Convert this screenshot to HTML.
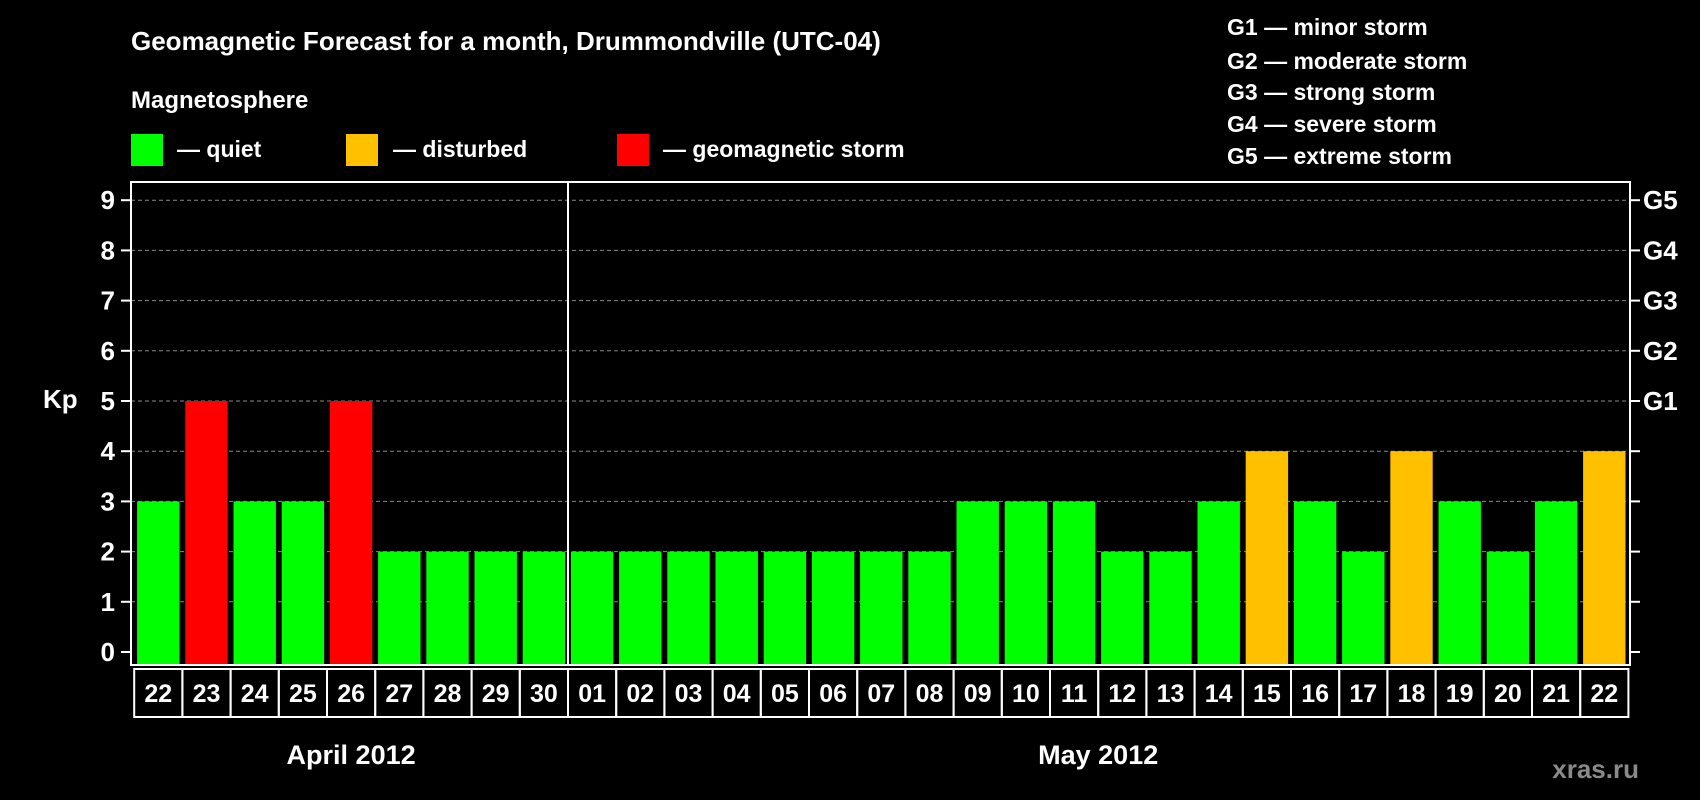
<!DOCTYPE html>
<html><head><meta charset="utf-8"><style>
html,body{margin:0;padding:0;background:#000;}
svg{display:block;font-family:"Liberation Sans",Arial,sans-serif;font-weight:bold;}
</style></head><body>
<svg id="chart" width="1700" height="800" viewBox="0 0 1700 800">
<rect x="0" y="0" width="1700" height="800" fill="#000"/>
<text x="131" y="50" fill="#fff" font-size="26">Geomagnetic Forecast for a month, Drummondville (UTC-04)</text>
<text x="131" y="108" fill="#fff" font-size="24">Magnetosphere</text>
<g>
<rect x="131" y="134" width="32" height="32" fill="#00ff00"/>
<text x="177" y="157" fill="#fff" font-size="23">— quiet</text></g>
<g>
<rect x="346" y="134" width="32" height="32" fill="#ffc000"/>
<text x="393" y="157" fill="#fff" font-size="23">— disturbed</text></g>
<g>
<rect x="617" y="134" width="32" height="32" fill="#ff0000"/>
<text x="663" y="157" fill="#fff" font-size="23">— geomagnetic storm</text></g>
<g font-size="23" fill="#fff">
<text x="1227" y="35">G1 — minor storm</text>
<text x="1227" y="69">G2 — moderate storm</text>
<text x="1227" y="100">G3 — strong storm</text>
<text x="1227" y="132">G4 — severe storm</text>
<text x="1227" y="164">G5 — extreme storm</text>
</g>
<text x="43" y="408" fill="#fff" font-size="26">Kp</text>
<text x="1639" y="778" fill="#8a8a8a" font-size="26" text-anchor="end">xras.ru</text>
<g id="plot"></g>
</svg>
<script>
const days = ["22","23","24","25","26","27","28","29","30","01","02","03","04","05","06","07","08","09","10","11","12","13","14","15","16","17","18","19","20","21","22"];
const kp = [3,5,3,3,5,2,2,2,2,2,2,2,2,2,2,2,2,3,3,3,2,2,3,4,3,2,4,3,2,3,4];
const yTicks = [0,1,2,3,4,5,6,7,8,9];
const gLabels = ["G1","G2","G3","G4","G5"];
const months = ["April 2012","May 2012"];
const monthStart = [0,9];

const NS="http://www.w3.org/2000/svg";
const g=document.getElementById('plot');
const L=131,R=1630,T=182,B=665;
const y0=652,unit=50.2;
const first=158.3,pitch=48.2,bw=42.4;
function ys(v){return y0-v*unit;}
function xs(i){return first+i*pitch;}
function mk(tag,at){const e=document.createElementNS(NS,tag);for(const k in at)e.setAttribute(k,at[k]);g.appendChild(e);return e;}
function color(v){return v>=5?"#ff0000":(v>=4?"#ffc000":"#00ff00");}

yTicks.forEach(v=>{
  const y=ys(v);
  if(v>0){const gl=mk('line',{x1:L,x2:R,y1:y,y2:y,stroke:'#888','stroke-width':1,'stroke-dasharray':'4,3'});
  
  }
  const t1=mk('line',{x1:L-10,x2:L,y1:y,y2:y,stroke:'#fff','stroke-width':2});
  
  
  const t2=mk('line',{x1:R,x2:R+10,y1:y,y2:y,stroke:'#fff','stroke-width':2});
  
  
  const tx=mk('text',{x:L-16,y:y+9,fill:'#fff','font-size':26,'text-anchor':'end'});
  tx.textContent=v;
  
  
});
gLabels.forEach((s,i)=>{
  const t=mk('text',{x:R+13,y:ys(5+i)+9,fill:'#fff','font-size':26});
  t.textContent=s;
  
  
});
kp.forEach((v,i)=>{
  const b=mk('rect',{x:xs(i)-bw/2,y:ys(v),width:bw,height:B-ys(v)-1,fill:color(v)});
  
  
  const bx=mk('rect',{x:xs(i)-pitch/2,y:669,width:pitch,height:48,fill:'none',stroke:'#fff','stroke-width':2});
  
  
  const t=mk('text',{x:xs(i),y:702,fill:'#fff','font-size':25,'text-anchor':'middle'});
  t.textContent=days[i];
  
  
});
const frame=mk('rect',{x:L,y:T,width:R-L,height:B-T,fill:'none',stroke:'#fff','stroke-width':2});


const sepX=(xs(monthStart[1]-1)+xs(monthStart[1]))/2;
const sep=mk('line',{x1:sepX,x2:sepX,y1:T,y2:B,stroke:'#fff','stroke-width':2});


months.forEach((m,i)=>{
  const s=monthStart[i],e=(i+1<monthStart.length?monthStart[i+1]:days.length)-1;
  const t=mk('text',{x:(xs(s)+xs(e))/2,y:764,fill:'#fff','font-size':27,'text-anchor':'middle'});
  t.textContent=m;
  
  
});
</script>
</body></html>
